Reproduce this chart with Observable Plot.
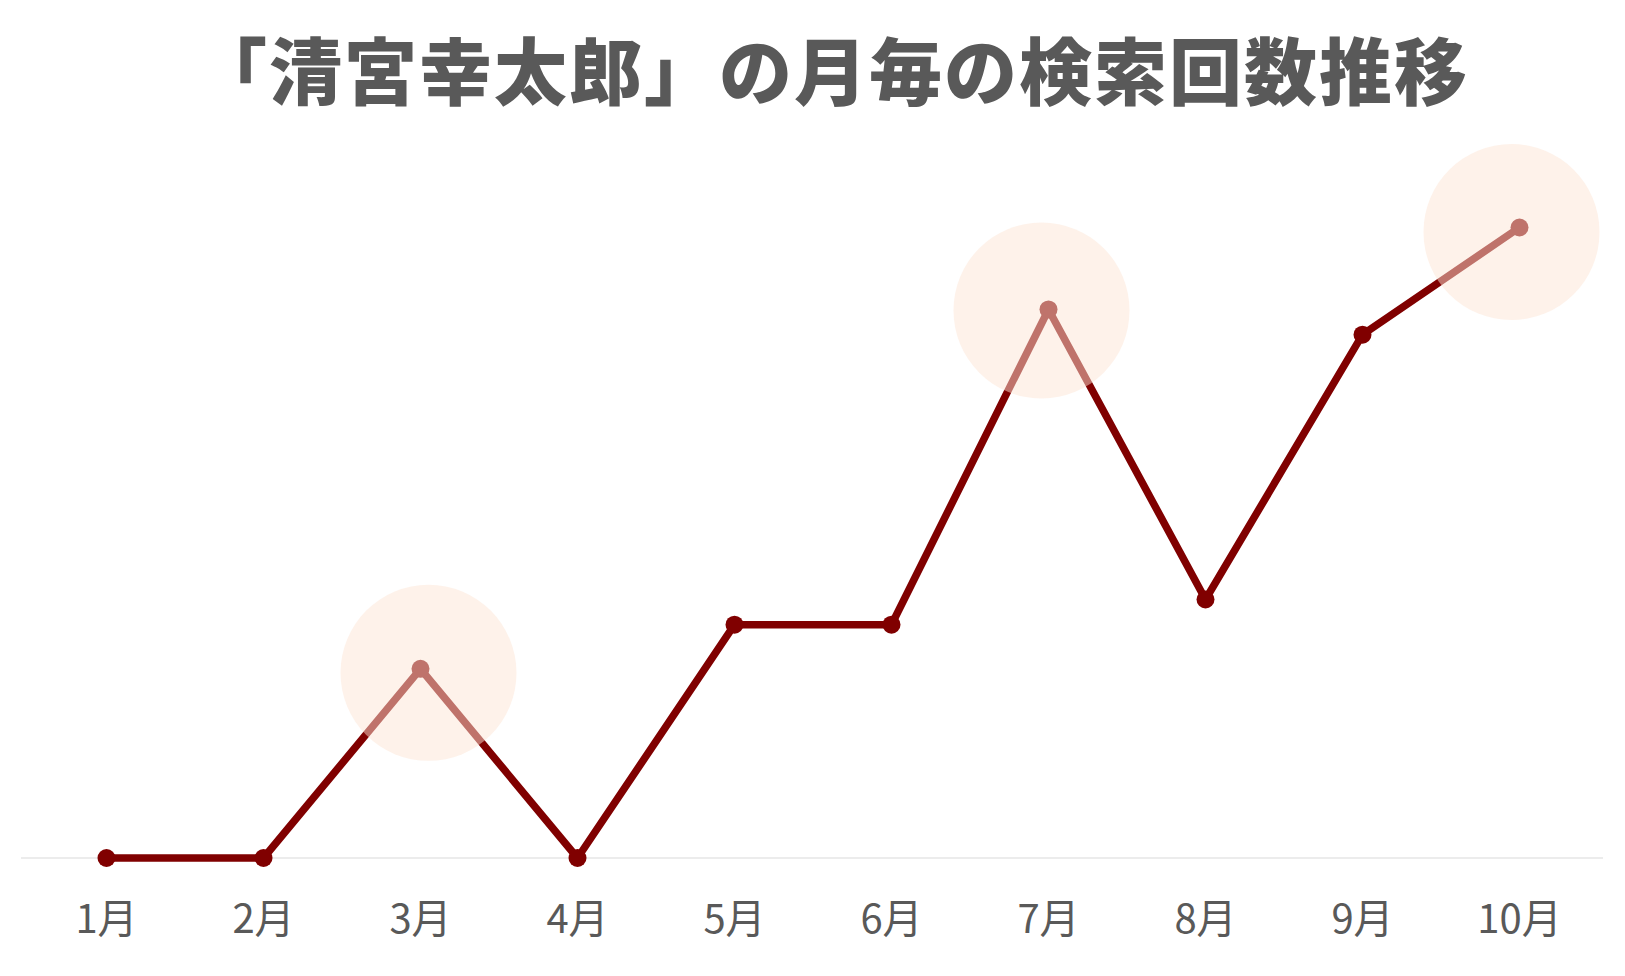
<!DOCTYPE html>
<html>
<head>
<meta charset="utf-8">
<script src="https://cdn.jsdelivr.net/npm/d3@7"></script>
<script src="https://cdn.jsdelivr.net/npm/@observablehq/plot@0.6"></script>
<style>
  html, body { margin: 0; padding: 0; background: #ffffff; }
  #wrap { width: 1625px; }
  #title {
    height: 140px; line-height: 134px; box-sizing: border-box;
    padding-left: 38px; text-align: center;
    font-family: "Noto Sans CJK JP", sans-serif; font-weight: 800;
    font-size: 73px; letter-spacing: 2px; color: #595959; white-space: nowrap;
  }
</style>
</head>
<body>
<div id="wrap">
  <div id="title">「清宮幸太郎」の月毎の検索回数推移</div>
  <div id="chart"></div>
</div>
<script>
const months = ["1月","2月","3月","4月","5月","6月","7月","8月","9月","10月"];
const searches = [0, 0, 30, 0, 37, 37, 87, 41, 83, 100];
const highlighted = ["3月","7月","10月"];

const data = months.map((m, i) => ({month: m, value: searches[i]}));
const hl = data.filter(d => highlighted.includes(d.month));

const lineColor = "#800000";
const circleFill = "#FDE6D5";

const chart = Plot.plot({
  width: 1625,
  height: 836,
  marginLeft: 21,
  marginRight: 22,
  marginTop: 0,
  marginBottom: 0,
  x: {type: "point", domain: months, range: [101.7, 1523], padding: 0, axis: null},
  y: {domain: [0, 100], range: [717.5, 87], axis: null},
  style: {background: "transparent"},
  marks: [
    Plot.ruleY([0], {stroke: "#d9d9d9", strokeWidth: 1}),
    Plot.line(data, {x: "month", y: "value", stroke: lineColor, strokeWidth: 7.5, strokeLinejoin: "miter", strokeLinecap: "butt"}),
    Plot.dot(data, {x: "month", y: "value", r: 9, fill: lineColor, stroke: "none"}),
    Plot.dot(hl.filter(d => d.month === "3月"), {x: "month", y: "value", r: 88, fill: circleFill, fillOpacity: 0.5, stroke: "none", dx: 8, dy: 4}),
    Plot.dot(hl.filter(d => d.month === "7月"), {x: "month", y: "value", r: 88, fill: circleFill, fillOpacity: 0.5, stroke: "none", dx: -7, dy: 1}),
    Plot.dot(hl.filter(d => d.month === "10月"), {x: "month", y: "value", r: 88, fill: circleFill, fillOpacity: 0.5, stroke: "none", dx: -8, dy: 4.5}),
    Plot.text(months, {x: d => d, y: () => 0, dy: 62, text: d => d, fontSize: 40, fill: "#595959", textAnchor: "middle", lineAnchor: "middle", fontFamily: "'Noto Sans CJK JP', sans-serif"})
  ]
});
document.getElementById("chart").appendChild(chart);
</script>
</body>
</html>
